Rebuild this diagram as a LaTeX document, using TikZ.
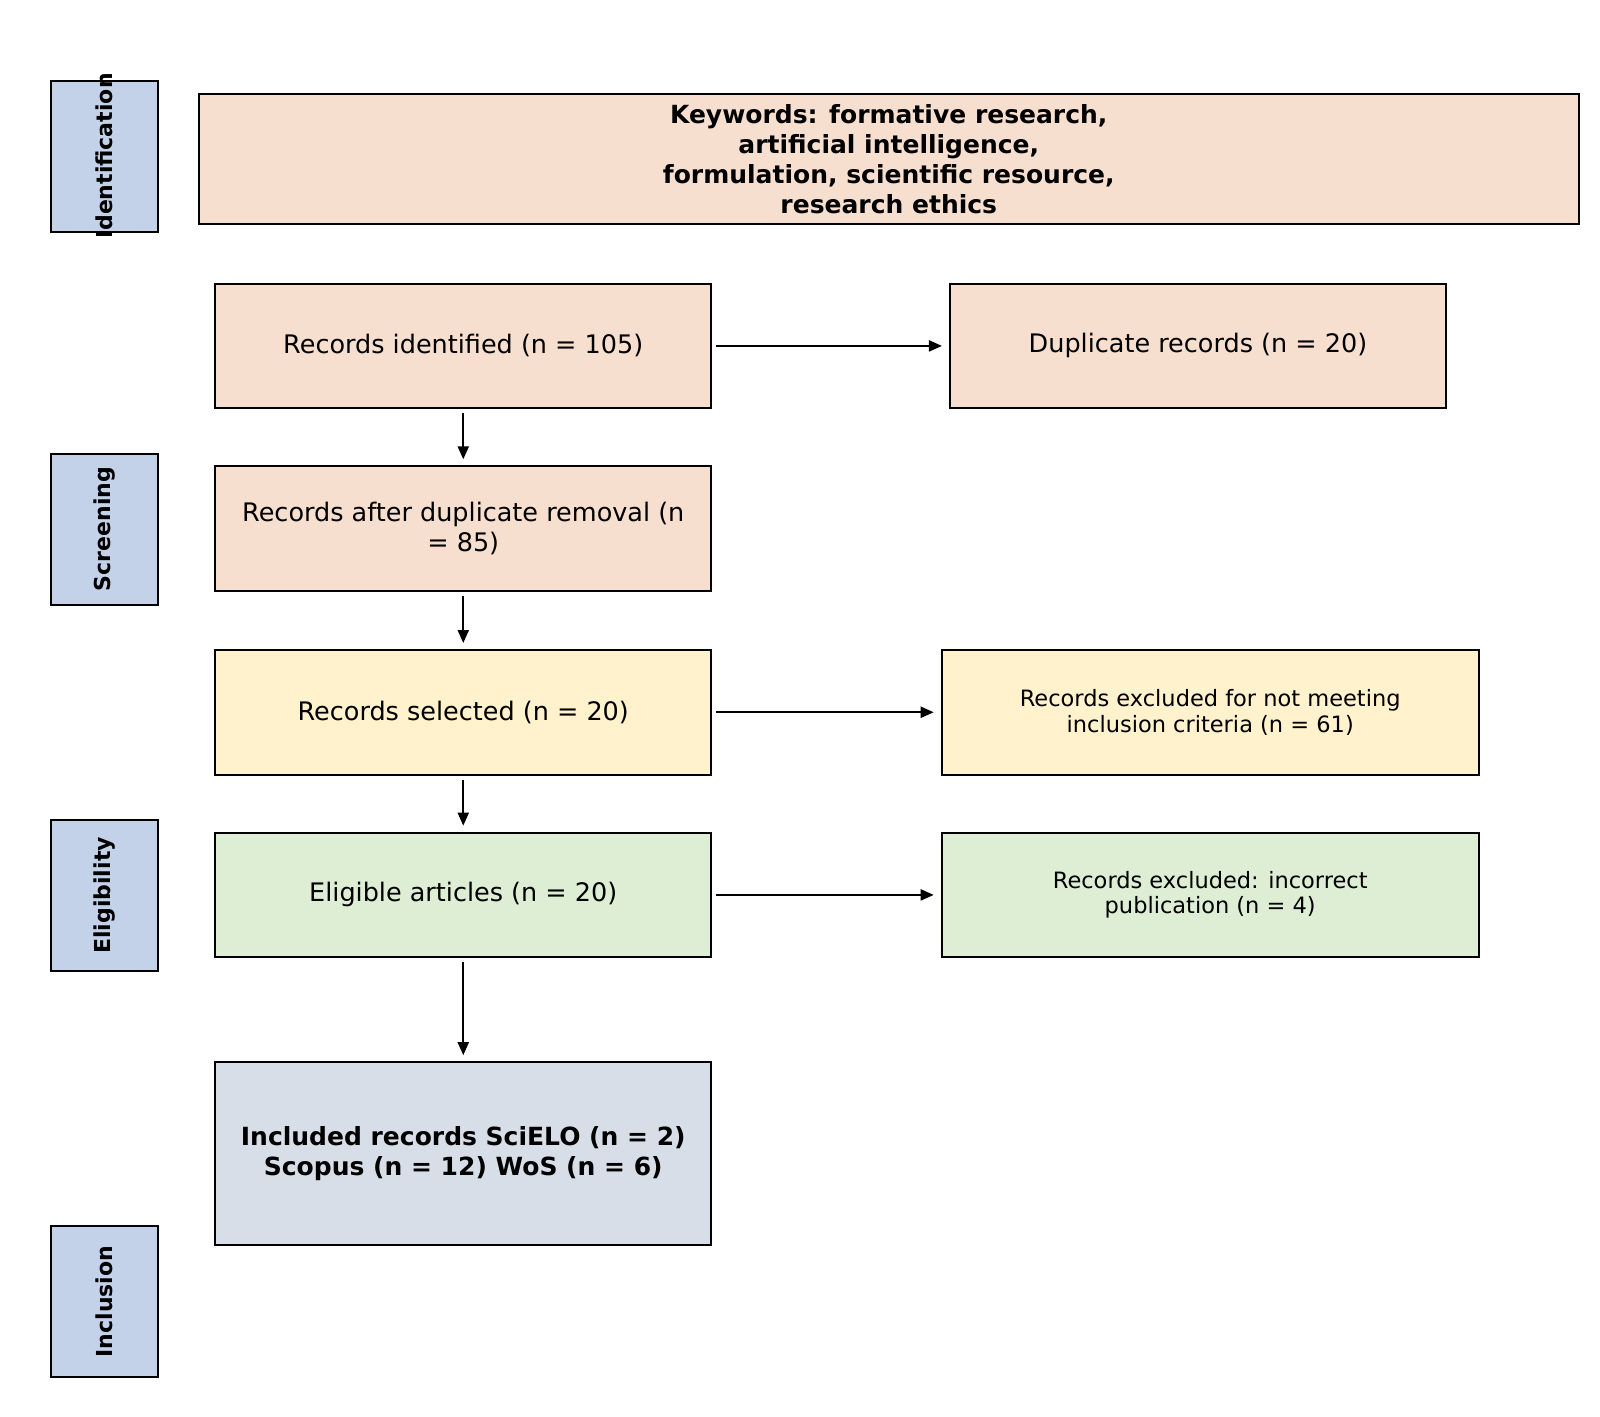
\documentclass[tikz,border=0pt]{standalone}
\usepackage{fontspec}
\setmainfont{DejaVu Sans}
\usetikzlibrary{arrows.meta}
\definecolor{side}{HTML}{C3D1E9}
\definecolor{peach}{HTML}{F7DFD0}
\definecolor{yel}{HTML}{FFF2CC}
\definecolor{grn}{HTML}{DDEED5}
\definecolor{gry}{HTML}{D8DEE8}
\tikzset{
 box/.style={draw=black, line width=2pt, align=center, inner sep=0pt, font=\fontsize{25.5}{30}\selectfont},
 sbox/.style={box, font=\fontsize{22.5}{25.5}\selectfont},
 sidebox/.style={draw=black, line width=2pt, fill=side, minimum width=107pt, minimum height=151pt, inner sep=0pt},
 sidelbl/.style={rotate=90, font=\bfseries\fontsize{22}{26}\selectfont},
 arr/.style={line width=2pt, -{Triangle[length=13pt,width=11pt]}}
}
\begin{document}
\begin{tikzpicture}[x=1.0204pt,y=-1.0204pt]
\useasboundingbox (0,0) rectangle (1568,1388);
% side labels
\node[sidebox] (s1) at (102.5,153) {};
\node[sidelbl] at (s1) {Identification};
\node[sidebox] (s2) at (102.5,518.5) {};
\node[sidelbl] at (s2) {Screening};
\node[sidebox] (s3) at (102.5,877.5) {};
\node[sidelbl] at (s3) {Eligibility};
\node[sidebox] (s4) at (102.5,1275.5) {};
\node[sidelbl] at (s4) {Inclusion};
% keywords
\node[box, fill=peach, minimum width=1380pt, minimum height=130.6pt, font=\bfseries\fontsize{25}{30}\selectfont] (kw) at (871,156)
 {Keywords: formative research,\\artificial intelligence,\\formulation, scientific resource,\\research ethics};
\node[box, fill=peach, minimum width=496pt, minimum height=124.5pt] (a) at (454,339) {Records identified (n = 105)};
\node[box, fill=peach, minimum width=496pt, minimum height=124.5pt] (b) at (1174,339) {Duplicate records (n = 20)};
\node[box, fill=peach, minimum width=496pt, minimum height=124.5pt] (c) at (454,518) {Records after duplicate removal (n\\= 85)};
\node[box, fill=yel, minimum width=496pt, minimum height=124.5pt] (d) at (454,698) {Records selected (n = 20)};
\node[sbox, fill=yel, minimum width=537pt, minimum height=124.5pt] (e) at (1186,698) {Records excluded for not meeting\\inclusion criteria (n = 61)};
\node[box, fill=grn, minimum width=496pt, minimum height=124.5pt] (f) at (454,877) {Eligible articles (n = 20)};
\node[sbox, fill=grn, minimum width=537pt, minimum height=124.5pt] (g) at (1186,877) {Records excluded: incorrect\\publication (n = 4)};
\node[box, fill=gry, minimum width=496pt, minimum height=182.7pt, font=\bfseries\fontsize{25}{30}\selectfont] (h) at (454,1130.5) {Included records SciELO (n = 2)\\Scopus (n = 12) WoS (n = 6)};
% arrows
\draw[arr, shorten <=4pt, shorten >=7pt] (a.east) -- (b.west);
\draw[arr, shorten <=4pt, shorten >=7pt] (d.east) -- (e.west);
\draw[arr, shorten <=4pt, shorten >=7pt] (f.east) -- (g.west);
\draw[arr, shorten <=4pt, shorten >=6pt] (a.south) -- (c.north);
\draw[arr, shorten <=4pt, shorten >=6pt] (c.south) -- (d.north);
\draw[arr, shorten <=4pt, shorten >=6pt] (d.south) -- (f.north);
\draw[arr, shorten <=4pt, shorten >=6pt] (f.south) -- (h.north);
\end{tikzpicture}
\end{document}
